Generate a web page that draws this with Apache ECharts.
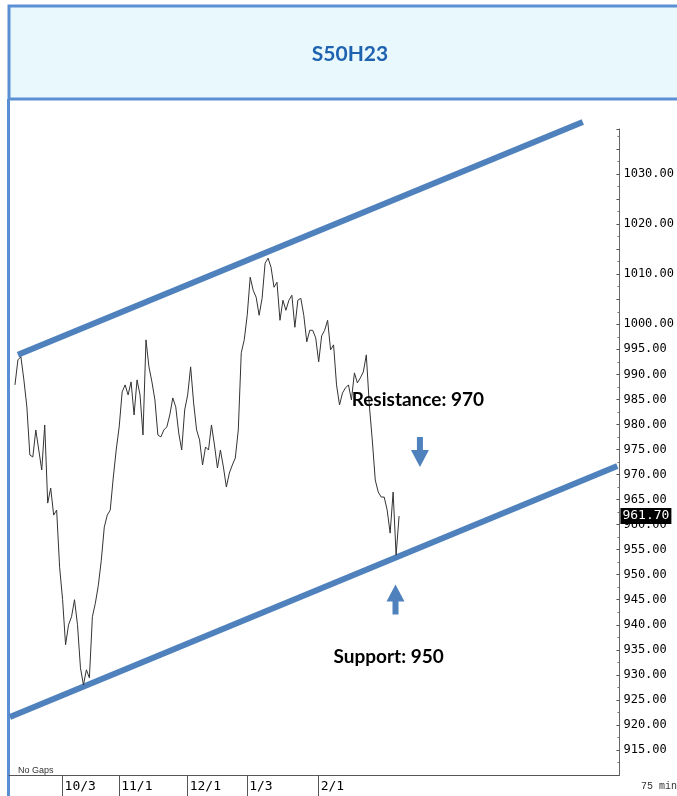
<!DOCTYPE html>
<html>
<head>
<meta charset="utf-8">
<script src="https://cdn.jsdelivr.net/npm/echarts@6/dist/echarts.min.js"></script>
<style>
html, body { margin: 0; padding: 0; background: #fff; }
#chart { width: 677px; height: 796px; }
</style>
</head>
<body>
<div id="chart"></div>
<script>
// S50H23, 75 min bars
const prices = [
  987.9, 992.9, 993.5, 988.9, 983.5, 973.9, 973.5, 978.9, 974.9, 970.9,
  979.9, 964.3, 967.3, 961.9, 962.9, 951.5, 945.0, 936.0, 940.0, 941.6,
  945.0, 940.0, 931.4, 928.0, 931.0, 929.4, 941.6, 944.3, 947.9, 952.9,
  959.5, 961.9, 962.9, 969.3, 974.9, 979.5, 986.5, 987.9, 985.9, 988.5,
  981.9, 988.9, 985.9, 977.9, 996.9, 991.5, 988.5, 984.9, 977.9, 977.5,
  978.9, 979.5, 981.9, 985.3, 983.5, 978.3, 974.9, 982.9, 985.9, 991.5,
  984.3, 978.9, 976.9, 971.9, 975.5, 974.9, 979.9, 975.9, 971.3, 974.9,
  971.5, 967.5, 970.3, 971.9, 973.3, 978.9, 994.3, 996.9, 1001.8, 1009.4,
  1006.8, 1005.4, 1001.8, 1005.2, 1012.2, 1013.2, 1011.4, 1007.4, 1008.4, 1000.8,
  1004.8, 1002.8, 1004.8, 1005.8, 999.4, 1004.8, 1005.2, 1001.8, 996.5, 998.8,
  998.8, 997.3, 992.5, 997.7, 998.8, 1000.8, 994.9, 995.9, 987.9, 983.9,
  986.3, 987.3, 987.9, 984.9, 990.3, 988.3, 989.3, 990.5, 993.9, 983.9,
  976.9, 968.9, 966.5, 965.5, 965.5, 962.9, 958.3, 966.5, 953.9, 961.7
];
const lastPrice = 961.70;

const dateLabels = ['10/3', '11/1', '12/1', '1/3', '2/1'];
const dateBars = [16, 35, 58, 78, 102];   // bar index where each month starts

// trend channel, [slot, price]
const upperChannel = [[3, 993.9], [192.7, 1040.4]];
const lowerChannel = [[0.3, 921.6], [204.3, 971.7]];

// notes: [slot, price]
const resistanceNote = { text: 'Resistance: 970', at: [137.3, 984.9] };
const supportNote = { text: 'Support: 950', at: [127.5, 933.6] };
const arrowDown = [138, 974.5];
const arrowUp = [129.8, 945.05];

const LEAD = 2;     // empty slots before the first bar
const SLOTS = 206;  // slots across the time axis

const cats = new Array(SLOTS).fill('');
dateBars.forEach((b, k) => { cats[b + LEAD] = dateLabels[k]; });

const priceData = prices.map((v, i) => [i + LEAD, v]);

const BLUE = '#4f81bd';
const MONO = 'DejaVu Sans Mono';
const ARROW = 'path://M6,0 L12,0 L12,13 L18,13 L9,30 L0,13 L6,13 Z';

const chart = echarts.init(document.getElementById('chart'));

chart.setOption({
  animation: false,
  title: {
    text: 'S50H23',
    left: 345,
    textAlign: 'center',
    top: 39,
    textStyle: { color: '#1e63b0', fontSize: 21, fontWeight: 'bold', fontFamily: 'Lato' }
  },
  graphic: [
    {
      type: 'rect', z: -1,
      shape: { x: 9, y: 6, width: 700, height: 93 },
      style: { fill: '#e8f8fd', stroke: '#5b8fd4', lineWidth: 3 }
    },
    {
      type: 'line',
      shape: { x1: 8.5, y1: 99, x2: 8.5, y2: 796 },
      style: { stroke: '#5b8fd4', lineWidth: 3 }
    },
    {
      type: 'text', left: 18, top: 766,
      style: { text: 'No Gaps', fill: '#333', font: '9px "Liberation Sans"' }
    },
    {
      type: 'text', left: 641, top: 781,
      style: { text: '75 min', fill: '#333', font: '10px "Liberation Mono"' }
    }
  ],
  grid: { left: 9, right: 53, top: 129, bottom: 21, containLabel: false },
  xAxis: [
    {
      type: 'category',
      data: cats,
      boundaryGap: false,
      axisLine: { lineStyle: { color: '#555', width: 1 } },
      axisTick: {
        interval: (i) => cats[i] !== '',
        length: 21,
        lineStyle: { color: '#555' }
      },
      axisLabel: {
        interval: (i) => cats[i] !== '',
        align: 'left',
        margin: 5,
        padding: [0, 0, 0, 2],
        color: '#000',
        fontFamily: MONO,
        fontSize: 13
      },
      splitLine: { show: false }
    },
    { type: 'value', min: 0, max: SLOTS - 1, show: false }
  ],
  yAxis: {
    type: 'value',
    position: 'right',
    min: 910,
    max: 1039,
    interval: 5,
    splitLine: { show: false },
    axisLine: { show: true, onZero: false, lineStyle: { color: '#666' } },
    axisTick: { show: true, inside: true, length: 3, lineStyle: { color: '#555' } },
    minorTick: { show: true, splitNumber: 2, length: 2, lineStyle: { color: '#777' } },
    axisLabel: {
      margin: 4,
      color: '#000',
      fontFamily: MONO,
      fontSize: 12,
      formatter: (v) => {
        if (v <= 910 || v > 1030) return '';
        if (v > 1000 && v % 10 !== 0) return '';
        return v.toFixed(2);
      }
    }
  },
  series: [
    {
      name: 'upper',
      type: 'line',
      xAxisIndex: 1,
      data: upperChannel,
      symbol: 'none',
      clip: false,
      silent: true,
      lineStyle: { color: BLUE, width: 6 }
    },
    {
      name: 'lower',
      type: 'line',
      xAxisIndex: 1,
      data: lowerChannel,
      symbol: 'none',
      clip: false,
      silent: true,
      lineStyle: { color: BLUE, width: 6 }
    },
    {
      name: 'S50H23',
      type: 'line',
      xAxisIndex: 1,
      data: priceData,
      symbol: 'none',
      z: 3,
      lineStyle: { color: '#333', width: 1 },
      markLine: {
        silent: true,
        symbol: 'none',
        lineStyle: { color: 'transparent', width: 0 },
        data: [{ yAxis: lastPrice }],
        label: {
          show: true,
          position: 'end',
          distance: 1,
          formatter: lastPrice.toFixed(2),
          color: '#fff',
          backgroundColor: '#000',
          fontFamily: MONO,
          fontSize: 13,
          padding: [2, 2, 1, 2]
        }
      }
    },
    {
      name: 'arrows',
      type: 'scatter',
      xAxisIndex: 1,
      silent: true,
      symbol: ARROW,
      symbolSize: [18, 30],
      itemStyle: { color: BLUE, opacity: 1 },
      data: [
        { value: arrowDown, symbolRotate: 0 },
        { value: arrowUp, symbolRotate: 180 }
      ]
    },
    {
      name: 'notes',
      type: 'scatter',
      xAxisIndex: 1,
      silent: true,
      symbolSize: 1,
      itemStyle: { color: 'transparent', opacity: 1 },
      z: 5,
      label: {
        show: true,
        position: 'inside',
        formatter: (p) => p.data.name,
        color: '#000',
        fontFamily: 'Lato',
        fontWeight: 'bold',
        fontSize: 19
      },
      data: [
        { name: resistanceNote.text, value: resistanceNote.at },
        { name: supportNote.text, value: supportNote.at }
      ]
    }
  ]
});
</script>
</body>
</html>
